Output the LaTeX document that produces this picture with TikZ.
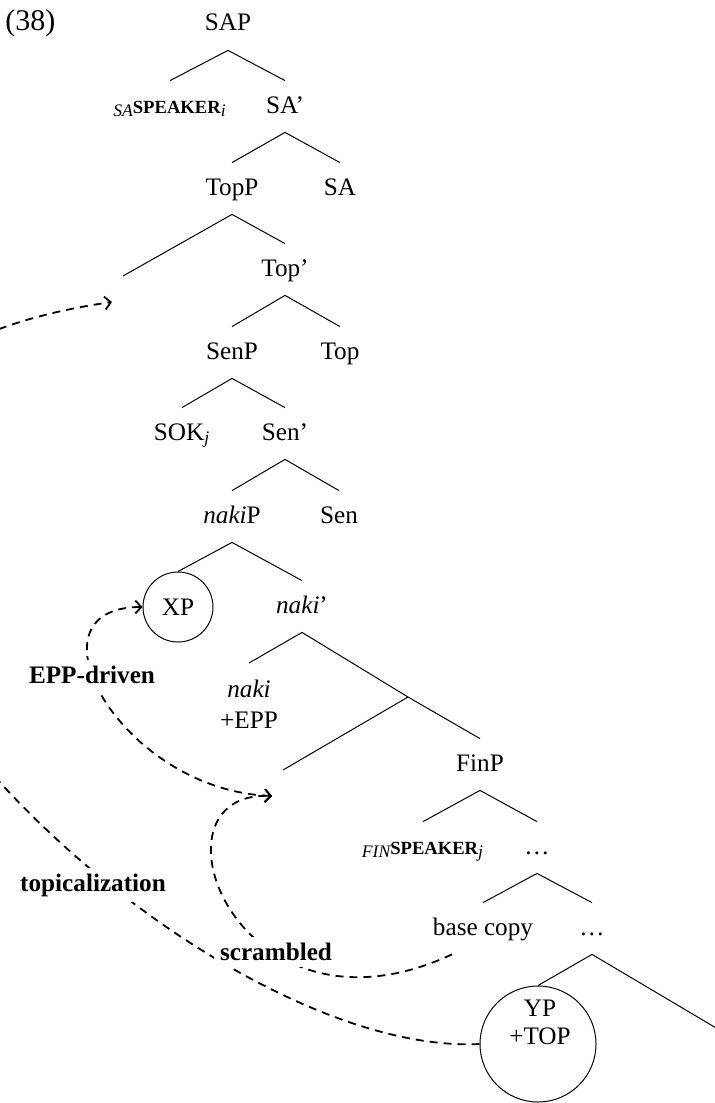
\documentclass[tikz,border=0pt]{standalone}
\usepackage{fontspec}
\setmainfont{Liberation Serif}
\usetikzlibrary{arrows.meta}
\newcommand{\lowpre}[1]{\raisebox{-1.5pt}{\fontsize{8.8}{9}\selectfont\itshape #1}}
\newcommand{\spkword}{{\fontsize{9.3}{10}\selectfont\bfseries SPEAKER}}
\begin{document}
\begin{tikzpicture}[x=0.5pt,y=-0.5pt,
  >={Straight Barb[length=3pt,width=6.5pt]},
  every node/.style={font=\fontsize{12.6}{15.5}\selectfont},
  tn/.style={anchor=base, inner xsep=1pt, inner ysep=0pt, text height=16pt, text depth=9.5pt},
  br/.style={line width=0.5pt},
  mv/.style={line width=0.9pt, dash pattern=on 4pt off 3pt},
  lab/.style={font=\fontsize{12.6}{14}\selectfont\bfseries, fill=white, inner sep=3pt},
  ring/.style={circle, draw, line width=0.5pt, inner sep=0pt}]
\useasboundingbox (0,0) rectangle (714,1103);

% nodes
\node[anchor=base west, inner sep=0pt, font=\fontsize{15}{18}\selectfont] (ex) at (5,31) {(38)};
\node[tn] (sap) at (228,31) {SAP};
\node[tn] (spk1) at (170,113) {\lowpre{SA}\spkword\textsubscript{\itshape i}};
\node[tn] (sa1) at (285,113) {SA’};
\node[tn] (topp) at (232,195) {TopP};
\node[tn] (sa) at (340,195) {SA};
\coordinate (sp1) at (123,276);
\coordinate (sp1tip) at (112,302);
\node[tn] (topb) at (285,276) {Top’};
\node[tn] (senp) at (232,359) {SenP};
\node[tn] (top) at (340,359) {Top};
\node[tn] (sok) at (182,440) {SOK\textsubscript{\itshape j}};
\node[tn] (senb) at (285,440) {Sen’};
\node[tn] (nakip) at (232,523) {\textit{naki}P};
\node[tn] (sen) at (339,523) {Sen};
\node[ring, minimum size=35pt] (xp) at (178,607) {XP};
\node[tn] (nakib) at (302,613) {\textit{naki}’};
\node[align=center, inner xsep=0pt, inner ysep=8.5pt, anchor=north] (naki) at (249,663) {\textit{naki}\\+EPP};
\coordinate (jn) at (408,697);
\coordinate (sp2) at (283,770);
\coordinate (sp2tip) at (272,796);
\node[tn] (finp) at (480,771) {FinP};
\node[tn] (spk2) at (423,854) {\lowpre{FIN}\spkword\textsubscript{\itshape j}};
\node[tn] (dots1) at (537,854) {…};
\node[tn] (base) at (483,935) {base copy};
\node[tn] (dots2) at (592,935) {…};
\node[ring, minimum size=58pt,
  label={[align=center, font=\fontsize{12.6}{14}\selectfont, inner sep=0pt, xshift=1pt, yshift=10.75pt]center:YP\\+TOP}] (yp) at (538,1044) {};
\coordinate (offr) at (760,1054);

% branches
\draw[br] (sap.south) -- (spk1.north);
\draw[br] (sap.south) -- (sa1.north);
\draw[br] (sa1.south) -- (topp.north);
\draw[br] (sa1.south) -- (sa.north);
\draw[br] (topp.south) -- (sp1);
\draw[br] (topp.south) -- (topb.north);
\draw[br] (topb.south) -- (senp.north);
\draw[br] (topb.south) -- (top.north);
\draw[br] (senp.south) -- (sok.north);
\draw[br] (senp.south) -- (senb.north);
\draw[br] (senb.south) -- (nakip.north);
\draw[br] (senb.south) -- (sen.north);
\draw[br] (nakip.south) -- (xp.north);
\draw[br] (nakip.south) -- (nakib.north);
\draw[br] (nakib.south) -- (naki.north);
\draw[br] (nakib.south) -- (jn) -- (finp.north);
\draw[br] (jn) -- (sp2);
\draw[br] (finp.south) -- (spk2.north);
\draw[br] (finp.south) -- (dots1.north);
\draw[br] (dots1.south) -- (base.north);
\draw[br] (dots1.south) -- (dots2.north);
\draw[br] (dots2.south) -- (yp.north);
\draw[br] (dots2.south) -- (offr);

% movement arrows
\draw[mv, ->] (yp.west) .. controls (150,1060) and (-500,390) .. (sp1tip);
\draw[mv, <->] (sp2tip) .. controls (120,790) and (20,607) .. (xp.west);
\draw[mv, ->] ([xshift=-15.5pt]base.south) .. controls (235,1055) and (140,790) .. (sp2tip);

% labels
\node[lab] (ltop) at (93,885) {topicalization};
\node[lab] (lepp) at (92,675) {EPP-driven};
\node[lab] (lscr) at (276,952) {scrambled};
\end{tikzpicture}
\end{document}
